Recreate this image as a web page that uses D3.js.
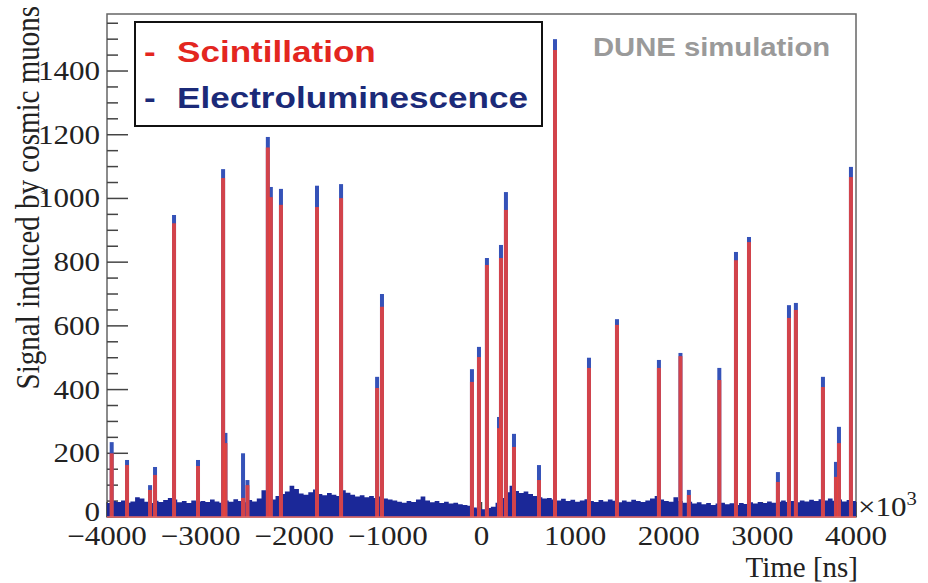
<!DOCTYPE html>
<html>
<head>
<meta charset="utf-8">
<script src="https://cdn.jsdelivr.net/npm/d3@7"></script>
<style>
  body { margin: 0; background: #fff; }
  svg { display: block; }
</style>
</head>
<body>
<div id="chart"></div>
<script>
// Spikes: time [ns], scintillation height (red), total height incl. electroluminescence (blue cap)
const spikeTimes  = [-3950, -3786, -3540, -3487, -3284, -3028, -2760, -2735, -2547, -2500,
                     -2282, -2250, -2142, -1757, -1500, -1115, -1063, -102, -27, 58,
                     187, 208, 261, 347, 614, 785, 1148, 1447, 1895, 2125,
                     2215, 2540, 2718, 2857, 3166, 3284, 3358, 3647, 3786, 3818, 3946];
const scintHeights = [200, 163, 85, 132, 922, 160, 1064, 232, 60, 100,
                      1160, 1004, 980, 973, 1001, 405, 660, 424, 502, 791,
                      279, 813, 964, 220, 116, 1466, 468, 603, 468, 505,
                      69, 430, 806, 863, 110, 625, 650, 408, 126, 232, 1067];
const totalHeights = [235, 179, 100, 157, 948, 179, 1092, 264, 200, 116,
                      1193, 1036, 1030, 1040, 1045, 440, 700, 464, 534, 813,
                      314, 854, 1020, 261, 163, 1500, 500, 621, 493, 515,
                      85, 468, 832, 879, 141, 665, 672, 440, 173, 283, 1099];

// Electroluminescence background, 50 ns bins starting at -4000 ns
const noiseStart = -4000;
const noiseBin = 50;
const noiseValues = [
  44, 50, 47, 52, 45, 49, 62, 58, 48, 44, 51, 47, 53, 60, 55, 46, 50, 44, 52, 48,
  50, 47, 55, 49, 45, 52, 48, 56, 50, 46, 53, 49, 58, 84, 70, 55,
  66, 72, 80, 98, 88, 74, 70, 78, 86, 72, 68, 75, 70, 66, 84, 76, 70, 64, 68, 62, 66, 60, 64, 58, 55,
  52, 48, 45, 50, 47, 55, 64, 52, 46, 50, 44, 48, 42, 45, 40, 38, 35,
  30, 26, 24, 28, 32,
  45, 60, 78, 98, 82, 75, 80, 72, 66, 62,
  58, 60, 55, 52, 57, 50, 54, 48, 52, 56, 50, 47, 53, 49, 55, 51, 46, 52, 48, 54, 50, 47, 52, 58, 66, 55, 50, 48,
  62, 50, 45, 48, 42, 46, 40, 44, 38, 42, 45, 40, 43, 38, 44, 41, 46, 42, 47, 44, 49, 45, 48, 52, 47, 50, 46, 52, 49,
  54, 50, 56, 52, 58, 51, 55, 49, 53, 50
];

const xTicks = [-4000, -3000, -2000, -1000, 0, 1000, 2000, 3000, 4000];
const yTicks = [0, 200, 400, 600, 800, 1000, 1200, 1400];
const legendLabels = ["Scintillation", "Electroluminescence"];

const W = 928, H = 583;
const margin = {top: 14, right: 72, bottom: 66, left: 107};
const width = W - margin.left - margin.right;
const height = H - margin.top - margin.bottom;
const stretch = 1.15;   // glyphs in the picture are slightly wide

const svg = d3.select("#chart").append("svg")
    .attr("width", W)
    .attr("height", H);

const x = d3.scaleLinear().domain([-4000, 4000]).range([margin.left, margin.left + width]);
const y = d3.scaleLinear().domain([0, 1579]).range([margin.top + height, margin.top]);

// Frame
svg.append("rect")
    .attr("x", margin.left).attr("y", margin.top)
    .attr("width", width).attr("height", height)
    .attr("fill", "none")
    .attr("stroke", "#666")
    .attr("stroke-width", 1.5);

// Ticks (ROOT style: inside the frame)
const yMinor = d3.range(0, 1579, 50);
svg.append("g").selectAll("line")
    .data(yMinor)
    .join("line")
    .attr("x1", margin.left)
    .attr("x2", d => margin.left + (d % 200 === 0 ? 21 : 11))
    .attr("y1", d => y(d)).attr("y2", d => y(d))
    .attr("stroke", "#444")
    .attr("stroke-width", 1.5);

const xMinor = d3.range(-4000, 4001, 200);
svg.append("g").selectAll("line")
    .data(xMinor)
    .join("line")
    .attr("x1", d => x(d)).attr("x2", d => x(d))
    .attr("y1", y(0))
    .attr("y2", d => y(0) - (d % 1000 === 0 ? 15 : 8))
    .attr("stroke", "#444")
    .attr("stroke-width", 1.5);

// Background noise
const noiseData = noiseValues.map((v, i) => ({t: noiseStart + i * noiseBin, v}));
noiseData.push({t: 4000, v: noiseValues[noiseValues.length - 1]});
svg.append("path")
    .datum(noiseData)
    .attr("fill", "#1b2898")
    .attr("d", d3.area()
        .curve(d3.curveStepAfter)
        .x(d => x(d.t))
        .y0(y(0))
        .y1(d => y(d.v)));

const spikes = spikeTimes.map((t, i) => ({t, red: scintHeights[i], total: totalHeights[i]}));
const barW = 4;

// Blue caps (electroluminescence on top of the scintillation)
svg.append("g").selectAll("rect")
    .data(spikes)
    .join("rect")
    .attr("x", d => x(d.t) - barW / 2)
    .attr("y", d => y(d.total))
    .attr("width", barW)
    .attr("height", d => y(0) - y(d.total))
    .attr("fill", "#3552b8");

// Red scintillation
svg.append("g").selectAll("rect")
    .data(spikes)
    .join("rect")
    .attr("x", d => x(d.t) - barW / 2)
    .attr("y", d => y(d.red))
    .attr("width", barW)
    .attr("height", d => y(0) - y(d.red))
    .attr("fill", "#e8413b")
    .attr("opacity", 0.88);

// Baseline line in red (histogram bottom)
svg.append("line")
    .attr("x1", margin.left).attr("x2", margin.left + width)
    .attr("y1", y(0)).attr("y2", y(0))
    .attr("stroke", "#e86a66")
    .attr("stroke-width", 1.5);

// Tick labels
svg.append("g").selectAll("text")
    .data(yTicks)
    .join("text")
    .attr("transform", d => `translate(${margin.left - 7},${y(d) + (d === 0 ? 4 : 9)}) scale(${stretch},1)`)
    .attr("text-anchor", "end")
    .style("font-family", "'Liberation Serif', 'Times New Roman', serif")
    .style("font-size", "27px")
    .attr("fill", "#222")
    .text(d => d);

svg.append("g").selectAll("text")
    .data(xTicks)
    .join("text")
    .attr("transform", d => `translate(${x(d)},${y(0) + 28}) scale(${stretch},1)`)
    .attr("text-anchor", "middle")
    .style("font-family", "'Liberation Serif', 'Times New Roman', serif")
    .style("font-size", "27px")
    .attr("fill", "#222")
    .text(d => d < 0 ? "\u2212" + Math.abs(d) : d);

// x10^3 multiplier
const mult = svg.append("text")
    .attr("transform", `translate(${margin.left + width + 2},${y(0) - 1}) scale(${stretch},1)`)
    .style("font-family", "'Liberation Serif', 'Times New Roman', serif")
    .style("font-size", "27px")
    .attr("fill", "#222");
mult.append("tspan").text("\u00d710");
mult.append("tspan").attr("dy", -11).style("font-size", "18px").text("3");

// Axis titles
svg.append("text")
    .attr("x", margin.left + width + 2)
    .attr("y", 577)
    .attr("text-anchor", "end")
    .style("font-family", "'Liberation Serif', 'Times New Roman', serif")
    .style("font-size", "29px")
    .attr("fill", "#222")
    .text("Time [ns]");

svg.append("text")
    .attr("transform", `translate(39,6) rotate(-90) scale(1,${stretch})`)
    .attr("text-anchor", "end")
    .style("font-family", "'Liberation Serif', 'Times New Roman', serif")
    .style("font-size", "29px")
    .attr("fill", "#222")
    .text("Signal induced by cosmic muons");

// DUNE simulation tag
svg.append("text")
    .attr("transform", `translate(593,56) scale(1.17,1)`)
    .style("font-family", "'Liberation Sans', Arial, sans-serif")
    .style("font-weight", "bold")
    .style("font-size", "25px")
    .attr("fill", "#9a9a9a")
    .text("DUNE simulation");

// Legend
const legend = svg.append("g");
legend.append("rect")
    .attr("x", 135).attr("y", 22)
    .attr("width", 407).attr("height", 104)
    .attr("fill", "#fff")
    .attr("stroke", "#111")
    .attr("stroke-width", 2);

const legendColors = ["#e3261f", "#1b2a78"];
legendLabels.forEach((label, i) => {
    const base = 62 + i * 46;
    legend.append("text")
        .attr("transform", `translate(144,${base}) scale(1.17,1)`)
        .style("font-family", "'Liberation Sans', Arial, sans-serif")
        .style("font-weight", "bold")
        .style("font-size", "30px")
        .attr("fill", legendColors[i])
        .text("-");
    legend.append("text")
        .attr("transform", `translate(177,${base}) scale(1.17,1)`)
        .style("font-family", "'Liberation Sans', Arial, sans-serif")
        .style("font-weight", "bold")
        .style("font-size", "30px")
        .attr("fill", legendColors[i])
        .text(label);
});
</script>
</body>
</html>
